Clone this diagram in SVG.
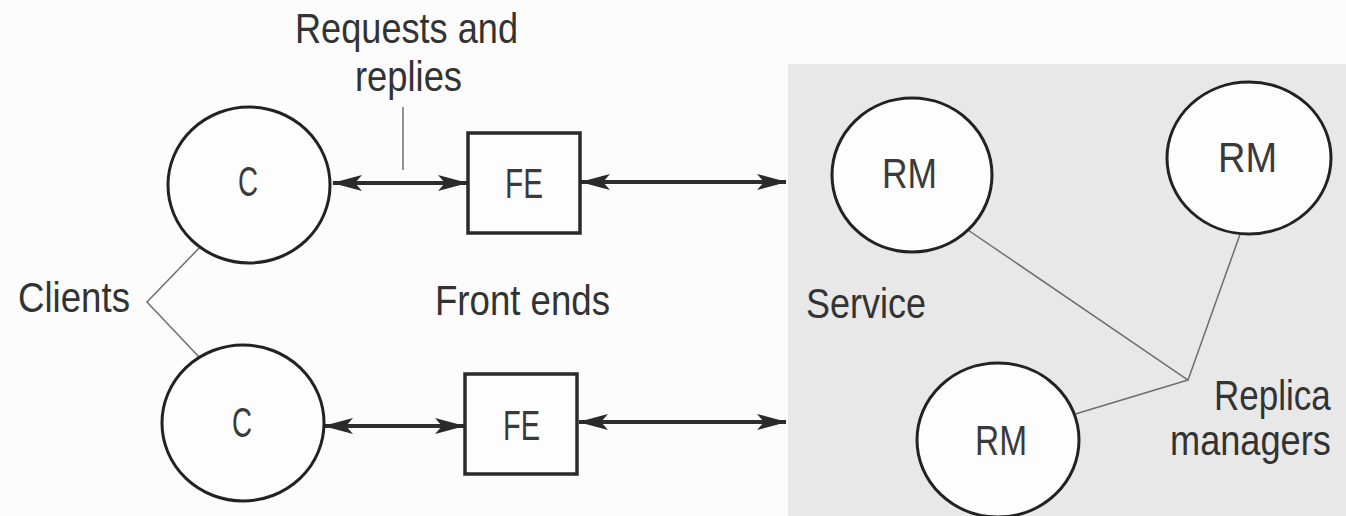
<svg xmlns="http://www.w3.org/2000/svg" width="1346" height="516" viewBox="0 0 1346 516">
  <style>
    .lbl { font-family: "Liberation Sans Narrow", "Liberation Sans", Arial, sans-serif; font-size: 42px; fill: #333; }
    .nt { font-family: "Liberation Sans Narrow", "Liberation Sans", Arial, sans-serif; font-size: 42px; fill: #3a3a3a; }
    .circ { fill: #fdfdfd; stroke: #222; stroke-width: 3; }
    .box { fill: #fdfdfd; stroke: #2a2a2a; stroke-width: 3.5; }
    .arrow { stroke: #2e2e2e; stroke-width: 4; fill: none; marker-start: url(#ah); marker-end: url(#ah); }
    .lead { stroke: #6e6e6e; stroke-width: 1.5; fill: none; }
  </style>
  <defs>
    <marker id="ah" viewBox="0 0 30 16" refX="29" refY="8" markerWidth="30" markerHeight="16" markerUnits="userSpaceOnUse" orient="auto-start-reverse">
      <path d="M0,0 L30,8 L0,16 L7,8 z" fill="#2a2a2a"/>
    </marker>
  </defs>
  <rect x="0" y="0" width="1346" height="516" fill="#fcfcfc"/>
  <rect id="service-area" x="788" y="64" width="558" height="452" fill="#e8e8e8"/>

  <g id="connectors">
    <line class="arrow" x1="333" y1="183" x2="467" y2="183"/>
    <line class="arrow" x1="581" y1="182" x2="786" y2="182"/>
    <line class="arrow" x1="324" y1="426" x2="464" y2="426"/>
    <line class="arrow" x1="579" y1="422" x2="786" y2="422"/>
    <line class="lead" x1="403" y1="107" x2="403" y2="170"/>
    <polyline class="lead" points="203,244 147,302 200,358"/>
    <polyline class="lead" points="965,228 1188,380 1243,226"/>
    <line class="lead" x1="1188" y1="380" x2="1072" y2="415"/>
  </g>

  <g id="c-top">
    <ellipse class="circ" cx="249" cy="185" rx="81" ry="78"/>
    <text class="nt" x="238" y="196" textLength="20" lengthAdjust="spacingAndGlyphs" fill="#4a4a4a">C</text>
  </g>
  <g id="c-bottom">
    <ellipse class="circ" cx="243" cy="423" rx="81" ry="78"/>
    <text class="nt" x="232" y="437" textLength="20" lengthAdjust="spacingAndGlyphs">C</text>
  </g>
  <g id="fe-top">
    <rect class="box" x="468" y="133" width="112" height="100"/>
    <text class="nt" x="505" y="198" textLength="38" lengthAdjust="spacingAndGlyphs">FE</text>
  </g>
  <g id="fe-bottom">
    <rect class="box" x="465" y="374" width="112" height="100"/>
    <text class="nt" x="503" y="440" textLength="37" lengthAdjust="spacingAndGlyphs">FE</text>
  </g>
  <g id="rm-1">
    <ellipse class="circ" cx="912" cy="175" rx="80" ry="77"/>
    <text class="nt" x="882" y="188" textLength="55" lengthAdjust="spacingAndGlyphs">RM</text>
  </g>
  <g id="rm-2">
    <ellipse class="circ" cx="1249" cy="158" rx="82" ry="76"/>
    <text class="nt" x="1218" y="172" textLength="59" lengthAdjust="spacingAndGlyphs">RM</text>
  </g>
  <g id="rm-3">
    <ellipse class="circ" cx="998" cy="440" rx="81" ry="77"/>
    <text class="nt" x="975" y="455" textLength="52" lengthAdjust="spacingAndGlyphs">RM</text>
  </g>

  <g id="labels">
    <text class="lbl" x="295" y="43" textLength="223" lengthAdjust="spacingAndGlyphs">Requests and</text>
    <text class="lbl" x="355" y="91" textLength="107" lengthAdjust="spacingAndGlyphs">replies</text>
    <text class="lbl" x="18" y="312" textLength="112" lengthAdjust="spacingAndGlyphs">Clients</text>
    <text class="lbl" x="435" y="315" textLength="175" lengthAdjust="spacingAndGlyphs">Front ends</text>
    <text class="lbl" x="806" y="318" textLength="120" lengthAdjust="spacingAndGlyphs">Service</text>
    <text class="lbl" transform="translate(1214,410) scale(0.84,1)" x="0" y="0" textLength="139" lengthAdjust="spacingAndGlyphs">Replica</text>
    <text class="lbl" transform="translate(1170,455) scale(0.86,1)" x="0" y="0" textLength="187" lengthAdjust="spacingAndGlyphs">managers</text>
  </g>
</svg>
